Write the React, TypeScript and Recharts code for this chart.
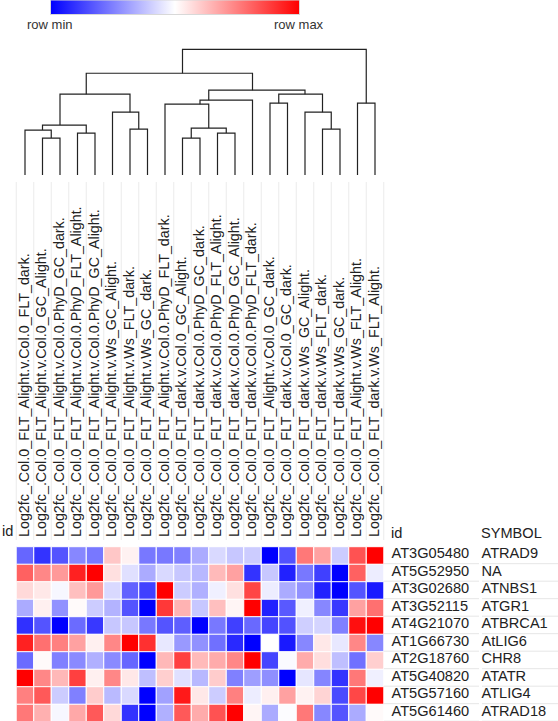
import React from 'react';
import { BarChart, Bar, Cell, XAxis, YAxis, ScatterChart, Scatter } from 'recharts';

// ---------- data ----------
const columnLabels = [
  'Log2fc_.Col.0_FLT_Alight.v.Col.0_FLT_dark.',
  'Log2fc_.Col.0_FLT_Alight.v.Col.0_GC_Alight.',
  'Log2fc_.Col.0_FLT_Alight.v.Col.0.PhyD_GC_dark.',
  'Log2fc_.Col.0_FLT_Alight.v.Col.0.PhyD_FLT_Alight.',
  'Log2fc_.Col.0_FLT_Alight.v.Col.0.PhyD_GC_Alight.',
  'Log2fc_.Col.0_FLT_Alight.v.Ws_GC_Alight.',
  'Log2fc_.Col.0_FLT_Alight.v.Ws_FLT_dark.',
  'Log2fc_.Col.0_FLT_Alight.v.Ws_GC_dark.',
  'Log2fc_.Col.0_FLT_Alight.v.Col.0.PhyD_FLT_dark.',
  'Log2fc_.Col.0_FLT_dark.v.Col.0_GC_Alight.',
  'Log2fc_.Col.0_FLT_dark.v.Col.0.PhyD_GC_dark.',
  'Log2fc_.Col.0_FLT_dark.v.Col.0.PhyD_FLT_Alight.',
  'Log2fc_.Col.0_FLT_dark.v.Col.0.PhyD_GC_Alight.',
  'Log2fc_.Col.0_FLT_dark.v.Col.0.PhyD_FLT_dark.',
  'Log2fc_.Col.0_FLT_Alight.v.Col.0_GC_dark.',
  'Log2fc_.Col.0_FLT_dark.v.Col.0_GC_dark.',
  'Log2fc_.Col.0_FLT_dark.v.Ws_GC_Alight.',
  'Log2fc_.Col.0_FLT_dark.v.Ws_FLT_dark.',
  'Log2fc_.Col.0_FLT_dark.v.Ws_GC_dark.',
  'Log2fc_.Col.0_FLT_Alight.v.Ws_FLT_Alight.',
  'Log2fc_.Col.0_FLT_dark.v.Ws_FLT_Alight.',
];

const rowIds = ['AT3G05480', 'AT5G52950', 'AT3G02680', 'AT3G52115', 'AT4G21070', 'AT1G66730', 'AT2G18760', 'AT5G40820', 'AT5G57160', 'AT5G61460'];
const rowSymbols = ['ATRAD9', 'NA', 'ATNBS1', 'ATGR1', 'ATBRCA1', 'AtLIG6', 'CHR8', 'ATATR', 'ATLIG4', 'ATRAD18'];

// row-normalised values (-1 = row min, +1 = row max)
const valuesAT3G05480 = [-0.6, -0.8, -0.67, -0.47, -0.53, 0.22, 0.05, -0.53, -0.53, -0.5, -0.33, -0.15, -0.22, -0.2, -1, -0.68, 0.53, 0.37, -0.2, 0.68, 1];
const valuesAT5G52950 = [0.62, 0.47, 0.4, 0.87, 1, 0.12, -0.12, -0.33, -0.15, -0.22, -0.28, 0.27, 0.37, -0.8, -0.22, -0.87, -0.53, -0.75, -1, 0.62, -0.07];
const valuesAT3G02680 = [0.15, 0.09, -0.03, 0.25, 0.4, -0.15, -0.62, -0.75, 1, -0.2, -0.31, -0.06, 0.12, 0.73, -0.07, -0.33, -0.43, -0.87, -1, -0.67, -0.9];
const valuesAT3G52115 = [-0.33, 0.06, -0.43, 0.02, -0.2, -0.3, -0.67, -1, 0.78, 0.3, -0.22, 0.25, 0.04, 1, -0.87, -0.65, -0.06, -0.47, -0.78, 0.37, 0.56];
const valuesAT4G21070 = [-0.81, -0.67, -1, -0.58, -0.78, -0.22, -0.22, -0.53, -0.67, -0.63, -1, -0.53, -0.75, -0.59, -0.73, -0.68, -0.19, -0.17, -0.5, 0.94, 1];
const valuesAT1G66730 = [0.87, 0.56, 0.5, 0.37, 0.06, 0.47, 1, 0.81, -0.09, -0.4, -0.43, -0.56, -0.84, -1, 0, -0.9, -0.47, 0.09, -0.09, 0.47, -0.47];
const valuesAT2G18760 = [-0.58, 0.02, -0.5, -0.46, -0.31, -0.46, -0.6, -1, 0.28, 0.75, 0.27, 0.33, 0.47, 1, -0.73, -0.02, 0.33, 0.13, -0.25, -0.56, 0.19];
const valuesAT5G40820 = [1, 0.47, 0.28, 0.75, 0.06, 0.47, 0.09, -0.25, 0.19, -0.12, -0.28, 0.2, -0.5, -0.38, -0.44, -1, -0.1, -0.48, -0.8, 0.53, -0.06];
const valuesAT5G57160 = [0.5, 0.65, -0.2, -0.5, 0.2, -0.27, -0.15, -1, -0.37, 0.9, 0.09, -0.2, 0.5, -0.07, 0.06, 0.37, 0.05, 0.17, -0.71, 0.72, 1];
const valuesAT5G61460 = [0.53, 0.31, -0.03, 0.34, 0.65, 0.15, -0.8, -1, -0.31, 0.65, 0.33, 0.68, 1, 0.04, -0.33, -0.01, 0.53, -0.47, -0.67, -0.33, 0.02];

const rowValues = [
  valuesAT3G05480, valuesAT5G52950, valuesAT3G02680, valuesAT3G52115, valuesAT4G21070,
  valuesAT1G66730, valuesAT2G18760, valuesAT5G40820, valuesAT5G57160, valuesAT5G61460,
];

// column dendrogram merges: [left child, right child, height]; L = leaf (column), N = earlier merge
const dendroMerges: Array<[string, string, number]> = [
  ['L1', 'L2', 37],
  ['L0', 'N0', 45],
  ['L3', 'L4', 42],
  ['N1', 'N2', 50],
  ['L6', 'L7', 46],
  ['L5', 'N4', 63],
  ['N3', 'N5', 81],
  ['L9', 'L10', 37],
  ['L11', 'L12', 42],
  ['N7', 'N8', 47],
  ['L8', 'N9', 71],
  ['N10', 'L13', 75],
  ['L14', 'L15', 72],
  ['L17', 'L18', 46],
  ['L16', 'N13', 63],
  ['N12', 'N14', 81],
  ['N11', 'N15', 85],
  ['N6', 'N16', 102],
  ['L19', 'L20', 72],
  ['N17', 'N18', 126],
];

// ---------- layout ----------
const W = 558;
const H = 721;
const PLOT_LEFT = 16.25;
const PLOT_RIGHT = 383.75;
const NCOL = columnLabels.length;
const COL_W = (PLOT_RIGHT - PLOT_LEFT) / NCOL;
const HEAT_TOP = 546.7;
const FONT = '"Liberation Sans", Arial, Helvetica, sans-serif';
const COL_FONT = 14.3;
const ROW_FONT = 14.6;

const colorFor = (v: number) => {
  if (v < 0) {
    const c = Math.round(255 * (1 + v));
    return `rgb(${c},${c},255)`;
  }
  const c = Math.round(255 * (1 - v));
  return `rgb(255,${c},${c})`;
};

const colKeys = columnLabels.map((_, j) => `c${j}`);
const heatData = rowIds.map((id, i) => {
  const o: any = { id, symbol: rowSymbols[i] };
  colKeys.forEach((k) => (o[k] = 1));
  return o;
});

// dendrogram geometry from the merges
type DNode = { x: number; h: number; n: number };
const nodes: DNode[] = [];
const lookup = (ref: string): DNode => {
  const idx = parseInt(ref.slice(1), 10);
  if (ref[0] === 'L') return { x: idx + 0.5, h: 0, n: 1 };
  return nodes[idx];
};
const dendroLinks = dendroMerges.map(([a, b, h]) => {
  const A = lookup(a);
  const B = lookup(b);
  const n = A.n + B.n;
  nodes.push({ x: (A.x * A.n + B.x * B.n) / n, h, n });
  return [
    { x: A.x, y: A.h },
    { x: A.x, y: h },
    { x: B.x, y: h },
    { x: B.x, y: B.h },
  ];
});
const rootHeight = dendroMerges[dendroMerges.length - 1][2];

const ColumnTick = (props: any) => {
  const { x, index } = props;
  const yBase = 537;
  return (
    <g>
      <line x1={x - COL_W / 2} x2={x - COL_W / 2} y1={182} y2={540} stroke="#ebebeb" strokeWidth={1} />
      {index === NCOL - 1 && (
        <line x1={x + COL_W / 2} x2={x + COL_W / 2} y1={182} y2={540} stroke="#ebebeb" strokeWidth={1} />
      )}
      <text
        x={x}
        y={yBase}
        dy={3.8}
        transform={`rotate(-90 ${x} ${yBase})`}
        textAnchor="start"
        fontSize={COL_FONT}
        fontFamily={FONT}
        fill="#222"
      >
        {columnLabels[index]}
      </text>
    </g>
  );
};

const RowTick = (props: any) => {
  const { y, index, payload } = props;
  return (
    <g>
      <text x={391.5} y={y} dy={3} fontSize={ROW_FONT} fontFamily={FONT} fill="#222">
        {payload.value}
      </text>
      <text x={481.5} y={y} dy={3} fontSize={ROW_FONT} fontFamily={FONT} fill="#222">
        {rowSymbols[index]}
      </text>
      <line x1={384} x2={479} y1={y + COL_W / 2 - 0.5} y2={y + COL_W / 2 - 0.5} stroke="#e6e6e6" />
      <line x1={482} x2={558} y1={y + COL_W / 2 - 0.5} y2={y + COL_W / 2 - 0.5} stroke="#e6e6e6" />
    </g>
  );
};

const noShape = () => <g />;

export default function App() {
  return (
    <div style={{ position: 'absolute', left: 0, top: 0, width: W, height: H, overflow: 'hidden', background: '#fff' }}>
      {/* colour legend */}
      <svg width={W} height={40} style={{ position: 'absolute', left: 0, top: 0 }}>
        <defs>
          <linearGradient id="rowGrad" x1="0" x2="1" y1="0" y2="0">
            <stop offset="0%" stopColor="#0000ff" />
            <stop offset="50%" stopColor="#ffffff" />
            <stop offset="100%" stopColor="#ff0000" />
          </linearGradient>
        </defs>
        <rect x={50.5} y={0} width={249} height={14.5} fill="url(#rowGrad)" stroke="#d8d8d8" strokeWidth={1} />
        <text x={27} y={29} fontSize={13} fontFamily={FONT} fill="#333">row min</text>
        <text x={274} y={29} fontSize={13} fontFamily={FONT} fill="#333">row max</text>
      </svg>

      {/* column dendrogram */}
      <div style={{ position: 'absolute', left: 0, top: 0 }}>
        <ScatterChart width={W} height={180} margin={{ top: 49.3, right: W - PLOT_RIGHT, bottom: 5, left: PLOT_LEFT }}>
          <XAxis type="number" dataKey="x" domain={[0, NCOL]} hide />
          <YAxis type="number" dataKey="y" domain={[0, rootHeight]} hide />
          {dendroLinks.map((pts, i) => (
            <Scatter
              key={i}
              data={pts}
              line={{ stroke: '#222', strokeWidth: 1.2 }}
              lineType="joint"
              lineJointType="linear"
              shape={noShape}
              isAnimationActive={false}
            />
          ))}
        </ScatterChart>
      </div>

      {/* heatmap with column and row labels */}
      <div style={{ position: 'absolute', left: 0, top: 0 }}>
        <BarChart
          width={W}
          height={722}
          data={heatData}
          layout="vertical"
          barCategoryGap={0}
          barGap={0}
          margin={{ top: HEAT_TOP - 366, right: 0, bottom: 0.3, left: PLOT_LEFT }}
        >
          <XAxis
            type="number"
            orientation="top"
            domain={[0, NCOL]}
            allowDataOverflow
            ticks={columnLabels.map((_, j) => j + 0.5)}
            interval={0}
            height={366}
            axisLine={false}
            tickLine={false}
            tick={<ColumnTick />}
          />
          <YAxis
            type="category"
            dataKey="id"
            orientation="right"
            width={W - PLOT_RIGHT}
            interval={0}
            axisLine={false}
            tickLine={false}
            tick={<RowTick />}
          />
          {colKeys.map((k, j) => (
            <Bar key={k} dataKey={k} stackId="heat" isAnimationActive={false} stroke="#fff" strokeWidth={1}>
              {heatData.map((_, i) => (
                <Cell key={i} fill={colorFor(rowValues[i][j])} />
              ))}
            </Bar>
          ))}
        </BarChart>
      </div>

      {/* header texts */}
      <svg width={W} height={H} style={{ position: 'absolute', left: 0, top: 0, pointerEvents: 'none' }}>
        <text x={2} y={536} fontSize={ROW_FONT} fontFamily={FONT} fill="#222">id</text>
        <text x={391} y={538} fontSize={ROW_FONT} fontFamily={FONT} fill="#222">id</text>
        <text x={481} y={538} fontSize={ROW_FONT} fontFamily={FONT} fill="#222">SYMBOL</text>
      </svg>
    </div>
  );
}
